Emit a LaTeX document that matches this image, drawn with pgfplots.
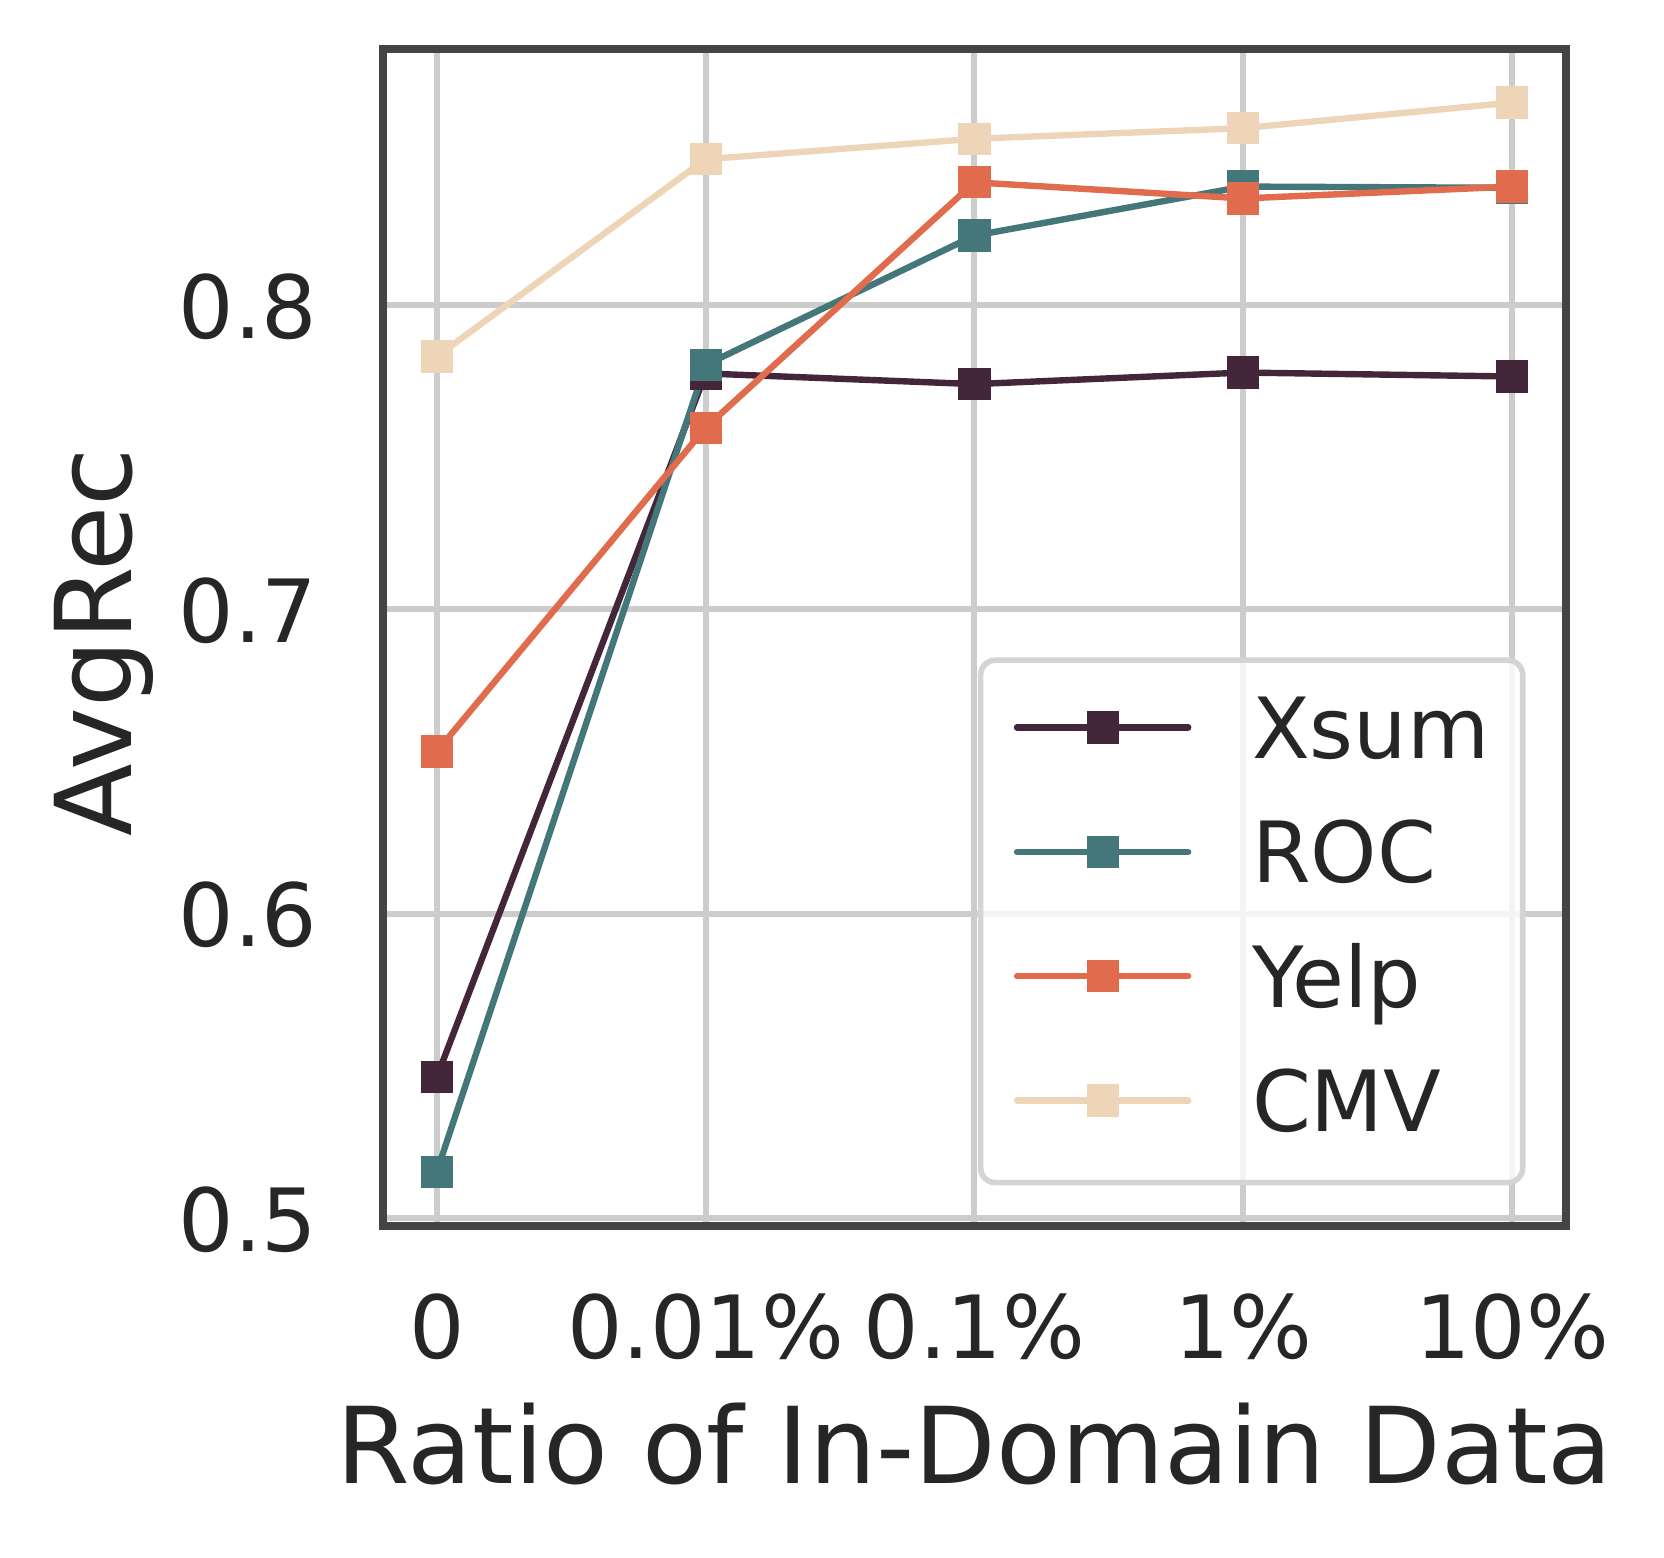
\documentclass[border=0pt]{standalone}
\usepackage{fontspec}
\setmainfont{DejaVu Sans}
\usepackage{pgfplots}
\pgfplotsset{compat=1.18}
\definecolor{xsumc}{HTML}{43263A}
\definecolor{rocc}{HTML}{447779}
\definecolor{yelpc}{HTML}{E06B4D}
\definecolor{cmvc}{HTML}{EFD5B7}
\definecolor{tcol}{HTML}{262626}
\definecolor{gridc}{HTML}{CCCCCC}
\definecolor{framec}{HTML}{444444}
\begin{document}
\begin{tikzpicture}
\useasboundingbox (-95.75pt,-82.75pt) rectangle (320.25pt,306.5pt);
\begin{axis}[
  at={(0,0)}, anchor=south west,
  scale only axis, width=295.75pt, height=294.25pt,
  xmin=-0.2, xmax=4.2, ymin=0.4974, ymax=0.8841,
  xtick={0,1,2,3,4}, xticklabels={0,0.01\%,0.1\%,1\%,10\%},
  ytick={0.5,0.6,0.7,0.8},
  /pgf/number format/assume math mode=true,
  yticklabel style={/pgf/number format/fixed, /pgf/number format/precision=1, /pgf/number format/fixed zerofill},
  major tick length=0pt,
  tick label style={font=\fontsize{21.8}{26}\selectfont, text=tcol},
  xticklabel style={anchor=base, yshift=-33pt, inner sep=0pt},
  yticklabel style={anchor=base east, xshift=-16.2pt, yshift=-8.3pt, inner sep=0pt},
  xlabel={Ratio of In-Domain Data},
  ylabel={AvgRec},
  xlabel style={at={(axis description cs:0.5,-0.2184)}, anchor=base, inner sep=0pt, font=\fontsize{26.5}{31}\selectfont, text=tcol},
  ylabel style={at={(axis description cs:-0.2123,0.496)}, anchor=base, inner sep=0pt, font=\fontsize{26.5}{31}\selectfont, text=tcol},
  grid=major,
  major grid style={draw=gridc, line width=1.5pt},
  axis line style={draw=framec, line width=2pt},
  legend style={at={(rel axis cs:0.9658,0.0345)}, anchor=south east,
    draw=black!17, line width=1.4pt, rounded corners=3.7pt,
    fill=white, fill opacity=0.8, draw opacity=1, text opacity=1,
    inner xsep=8.3pt, inner ysep=9.1pt, row sep=12.0pt, column sep=15.15pt,
    font=\fontsize{21.1}{25}\selectfont, text=tcol,
    nodes={inner sep=0pt, text height=15.4pt, text depth=0pt}},
  legend cell align=left,
  legend image code/.code={\path[draw=none, fill=none] (0.8pt,-11.4pt) -- (0.8pt,0pt);
    \draw[fill opacity=1, sharp corners, line cap=round, mark repeat=2, mark phase=2] plot coordinates {(0.8pt,0pt) (22.2pt,0pt) (43.6pt,0pt)};},
]
\addplot[color=xsumc, line width=1.6pt, mark=square*, mark size=3.9pt, mark options={solid, sharp corners, line width=0pt, fill opacity=1}]
  coordinates {(0,0.5463) (1,0.7775) (2,0.7740) (3,0.7778) (4,0.7765)};
\addlegendentry{Xsum}
\addplot[color=rocc, line width=1.6pt, mark=square*, mark size=3.9pt, mark options={solid, sharp corners, line width=0pt, fill opacity=1}]
  coordinates {(0,0.5152) (1,0.7803) (2,0.8228) (3,0.8389) (4,0.8385)};
\addlegendentry{ROC}
\addplot[color=yelpc, line width=1.6pt, mark=square*, mark size=3.9pt, mark options={solid, sharp corners, line width=0pt, fill opacity=1}]
  coordinates {(0,0.6533) (1,0.7597) (2,0.8403) (3,0.8350) (4,0.8389)};
\addlegendentry{Yelp}
\addplot[color=cmvc, line width=1.6pt, mark=square*, mark size=3.9pt, mark options={solid, sharp corners, line width=0pt, fill opacity=1}]
  coordinates {(0,0.7831) (1,0.8479) (2,0.8546) (3,0.8581) (4,0.8665)};
\addlegendentry{CMV}
\end{axis}
\end{tikzpicture}
\end{document}
